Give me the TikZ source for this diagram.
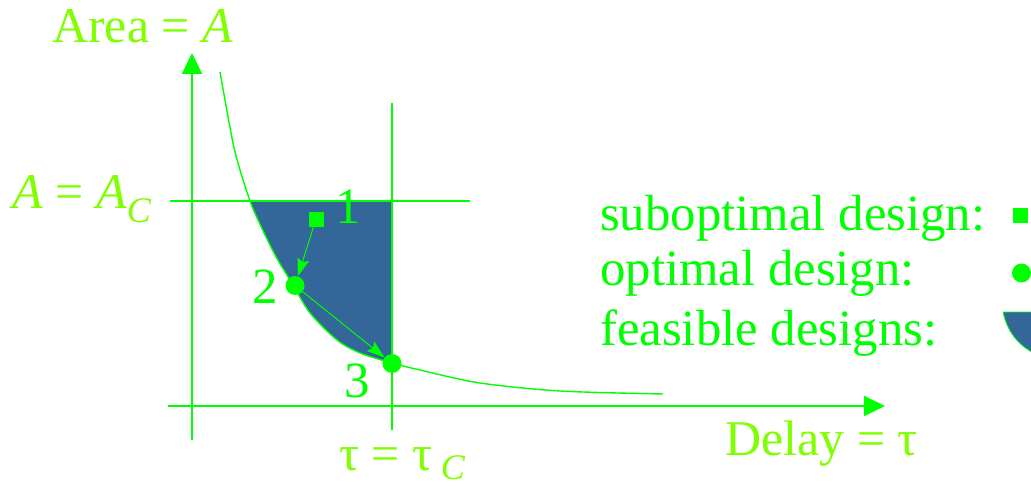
\documentclass[tikz,border=0pt]{standalone}
\usepackage{fontspec}
\setmainfont{Liberation Serif}
\usetikzlibrary{arrows.meta}
\definecolor{lg}{HTML}{00FF00}
\definecolor{lab}{HTML}{80FF00}
\definecolor{feas}{HTML}{336699}
\begin{document}
\begin{tikzpicture}[x=1pt,y=-1pt,
  txt/.style={inner sep=0pt,anchor=base west,text=lg,font=\fontsize{50.8}{58}\selectfont},
  labtxt/.style={inner sep=0pt,anchor=base west,text=lab,font=\fontsize{50}{58}\selectfont},
  axis/.style={draw=lg,line width=2pt,-{Triangle[length=21pt,width=20pt]}},
  grid/.style={draw=lg,line width=1.4pt},
  curve/.style={draw=lg,line width=1.4pt},
  sqmark/.style={fill=lg,minimum size=15pt,inner sep=0pt,outer sep=0pt,rectangle},
  dotmark/.style={fill=lg,minimum size=19pt,inner sep=0pt,outer sep=0pt,circle},
  move/.style={draw=lg,line width=1pt,-{Stealth[length=18pt,width=12pt,inset=3pt]},shorten >=0pt}]
\useasboundingbox (0,0) rectangle (1031,487);
% feasible region
\begin{scope}
\clip (0,201) rectangle (392,487);
\fill[feas] plot[smooth] coordinates {(220,72) (225,100) (233,143) (240,170) (250,201) (258,220) (275,255) (293,285) (310,313) (337,340) (360,353) (392,363) (420,370) (480,383) (560,391) (663,394)} -- (663,0) -- (220,0) -- cycle;
\end{scope}
% axes
\coordinate (yb) at (192,440); \coordinate (yt) at (192,53);
\coordinate (xl) at (168,406); \coordinate (xr) at (885,406);
\draw[axis] (yb) -- (yt);
\draw[axis] (xl) -- (xr);
% constraint lines
\coordinate (hl) at (170,201); \coordinate (hr) at (470,201);
\coordinate (vt) at (392,103); \coordinate (vb) at (392,430);
\draw[grid] (hl) -- (hr);
\draw[grid] (vt) -- (vb);
% curve
\draw[curve] plot[smooth] coordinates {(220,72) (225,100) (233,143) (240,170) (250,201) (258,220) (275,255) (293,285) (310,313) (337,340) (360,353) (392,363) (420,370) (480,383) (560,391) (663,394)};
% design points
\node[sqmark] (p1) at (316,219) {};
\node[dotmark] (p2) at (295,285.5) {};
\node[dotmark] (p3) at (392,363.5) {};
\draw[move] (p1) -- (p2);
\draw[move] (p2) -- (p3);
\node[txt] (n1) at (335,223) {1};
\node[txt] (n2) at (252,303) {2};
\node[txt] (n3) at (344,397) {3};
% axis labels
\node[labtxt] (la) at (52,43) {Area = \textit{A}};
\node[labtxt] (lac) at (12,208) {\textit{A} = \textit{A}\raisebox{-14pt}{\fontsize{36}{40}\selectfont\textit{C}}};
\node[labtxt] (lt) at (339,470) {τ = τ\,\raisebox{-9pt}{\fontsize{36}{40}\selectfont\textit{C}}};
\node[labtxt] (ld) at (725,455) {Delay = τ};
% legend
\node[txt] (l1) at (600,230) {suboptimal design:};
\node[txt] (l2) at (600,285) {optimal design:};
\node[txt] (l3) at (600,345) {feasible designs:};
\node[sqmark] (m1) at (1020.5,215.5) {};
\node[dotmark] (m2) at (1021.5,273) {};
\fill[feas,draw=lg,line width=0.8pt] (1003,312) -- (1045,312) -- (1045,358) .. controls (1022,350) and (1008,335) .. (1003,312) -- cycle;
\end{tikzpicture}
\end{document}
